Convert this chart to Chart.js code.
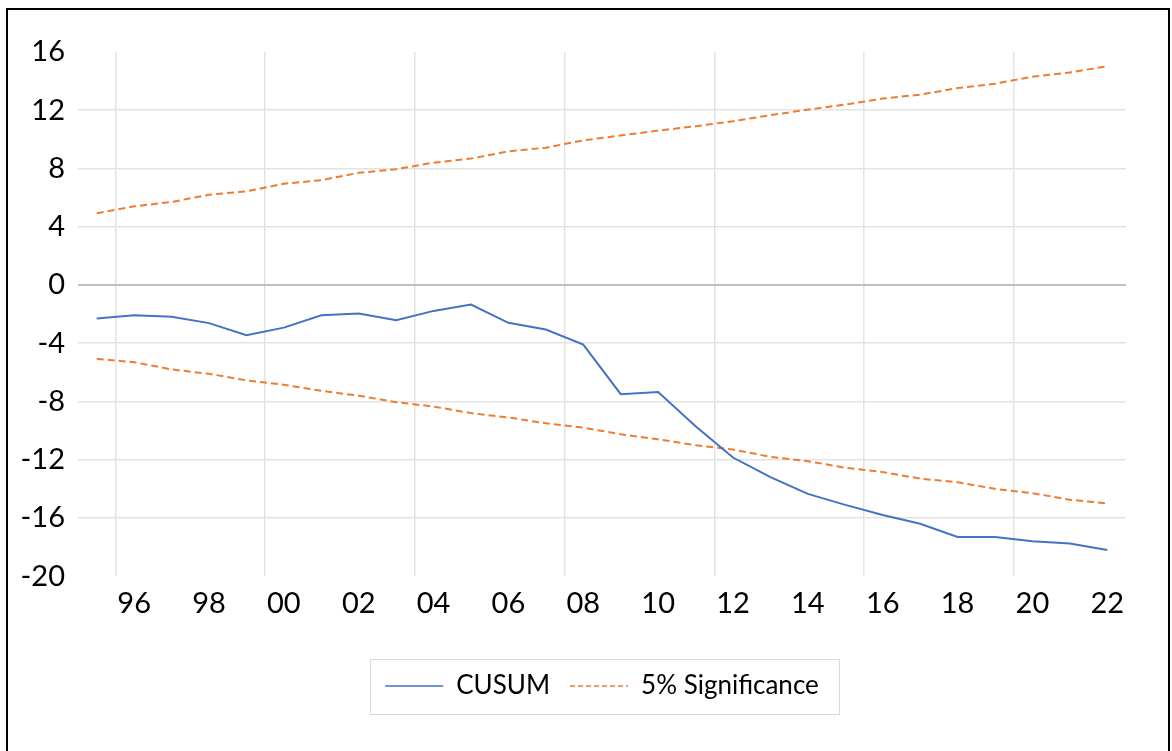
<!DOCTYPE html>
<html>
<head>
<meta charset="utf-8">
<script src="https://cdn.jsdelivr.net/npm/chart.js@4/dist/chart.umd.min.js"></script>
<style>
  html, body { margin: 0; padding: 0; background: #fff; overflow: hidden; }
  #wrap { position: relative; width: 1172px; height: 751px; overflow: hidden; }
  #c { position: absolute; left: 0; top: 0; }
  #frame { position: absolute; left: 6px; top: 8px; width: 1160px; height: 760px; border: 2px solid #000; pointer-events: none; }
</style>
</head>
<body>
<div id="wrap">
  <canvas id="c" width="1172" height="751"></canvas>
  <div id="frame"></div>
</div>
<script>
const years = ['1995','1996','1997','1998','1999','2000','2001','2002','2003','2004','2005','2006','2007','2008',
               '2009','2010','2011','2012','2013','2014','2015','2016','2017','2018','2019','2020','2021','2022'];
const cusum = [-2.3, -2.08, -2.18, -2.62, -3.45, -2.93, -2.08, -1.96, -2.42, -1.78, -1.35, -2.6, -3.06, -4.1,
               -7.5, -7.35, -9.7, -11.85, -13.2, -14.35, -15.1, -15.8, -16.4, -17.3, -17.3, -17.6, -17.75, -18.2];
const upper5 = [4.93, 5.4, 5.7, 6.2, 6.43, 6.95, 7.2, 7.7, 7.95, 8.4, 8.68, 9.18, 9.43, 9.93,
                10.27, 10.6, 10.9, 11.25, 11.66, 12.05, 12.39, 12.8, 13.07, 13.52, 13.82, 14.3, 14.6, 15.02];
const lower5 = [-5.07, -5.3, -5.8, -6.1, -6.55, -6.85, -7.27, -7.6, -8.05, -8.35, -8.8, -9.1, -9.5, -9.8,
                -10.25, -10.6, -11.0, -11.3, -11.8, -12.1, -12.55, -12.85, -13.3, -13.55, -14.0, -14.3, -14.75, -15.0];
const seriesNames = ['CUSUM', '5% Significance'];
const yTicks = { min: -20, max: 16, step: 4 };

const BLUE = '#4472C4';
const ORANGE = '#ED7D31';
const FONT = 'Lato';

const legendFrame = {
  id: 'legendFrame',
  afterDraw(chart) {
    const lg = chart.legend;
    if (!lg || !lg.legendHitBoxes || !lg.legendHitBoxes.length) return;
    let l = Infinity, r = -Infinity, t = Infinity, b = -Infinity;
    lg.legendHitBoxes.forEach(h => {
      l = Math.min(l, h.left); r = Math.max(r, h.left + h.width);
      t = Math.min(t, h.top); b = Math.max(b, h.top + h.height);
    });
    const cy = (t + b) / 2;
    const ctx = chart.ctx;
    ctx.save();
    ctx.strokeStyle = '#d9d9d9';
    ctx.lineWidth = 1;
    ctx.strokeRect(Math.round(l - 15) + 0.5, Math.round(cy - 27) + 0.5, Math.round(r - l + 35), 55);
    ctx.restore();
  }
};

new Chart(document.getElementById('c'), {
  type: 'line',
  data: {
    labels: years,
    datasets: [
      { label: seriesNames[0], data: cusum, borderColor: BLUE, backgroundColor: 'transparent',
        borderWidth: 2, pointRadius: 0, tension: 0, fill: false },
      { label: seriesNames[1], data: upper5, borderColor: ORANGE, backgroundColor: 'transparent',
        borderWidth: 2, borderDash: [7, 4], pointRadius: 0, tension: 0, fill: false },
      { label: seriesNames[1] + ' lower', data: lower5, borderColor: ORANGE, backgroundColor: 'transparent',
        borderWidth: 2, borderDash: [7, 4], pointRadius: 0, tension: 0, fill: false }
    ]
  },
  options: {
    responsive: false,
    animation: false,
    devicePixelRatio: 1,
    layout: { padding: { left: 0, top: 52, right: 46, bottom: 42 } },
    plugins: {
      title: { display: false },
      tooltip: { enabled: false },
      legend: {
        display: true,
        position: 'bottom',
        fullSize: false,
        labels: {
          usePointStyle: true,
          pointStyle: 'line',
          pointStyleWidth: 58,
          boxWidth: 58,
          boxHeight: 25,
          padding: 20,
          color: '#000',
          font: { family: FONT, size: 26 },
          filter: (item) => item.datasetIndex !== 2,
          generateLabels: (chart) => {
            const items = Chart.defaults.plugins.legend.labels.generateLabels(chart);
            return items.map(it => {
              const ds = chart.data.datasets[it.datasetIndex];
              it.strokeStyle = ds.borderColor;
              it.fillStyle = 'transparent';
              it.lineWidth = 1.5;
              it.lineDash = ds.borderDash ? [5, 3] : [];
              it.pointStyle = 'line';
              return it;
            });
          }
        }
      }
    },
    scales: {
      x: {
        type: 'category',
        offset: true,
        grid: {
          offset: true,
          drawTicks: false,
          lineWidth: 1.5,
          color: (ctx) => (ctx.index !== undefined && ctx.index % 4 === 1) ? '#e3e3e3' : 'transparent'
        },
        border: { display: false },
        ticks: {
          autoSkip: false,
          maxRotation: 0,
          minRotation: 0,
          padding: 10,
          color: '#000',
          font: { family: FONT, size: 29 },
          callback: function (value, index) {
            return index % 2 === 1 ? years[index].slice(2) : '';
          }
        },
        afterFit: (scale) => { scale.height += 22; }
      },
      y: {
        min: yTicks.min,
        max: yTicks.max,
        grid: {
          drawTicks: false,
          lineWidth: (ctx) => ctx.tick && ctx.tick.value === 0 ? 2 : 1.5,
          color: (ctx) => {
            if (!ctx.tick) return 'transparent';
            const v = ctx.tick.value;
            if (v === 0) return '#bfbfbf';
            if (v === yTicks.max || v === yTicks.min) return 'transparent';
            return '#e3e3e3';
          }
        },
        border: { display: false },
        ticks: {
          stepSize: yTicks.step,
          padding: 13,
          color: '#000',
          font: { family: FONT, size: 29 }
        },
        afterFit: (scale) => { scale.width = 78; }
      }
    }
  },
  plugins: [legendFrame]
});
</script>
</body>
</html>
